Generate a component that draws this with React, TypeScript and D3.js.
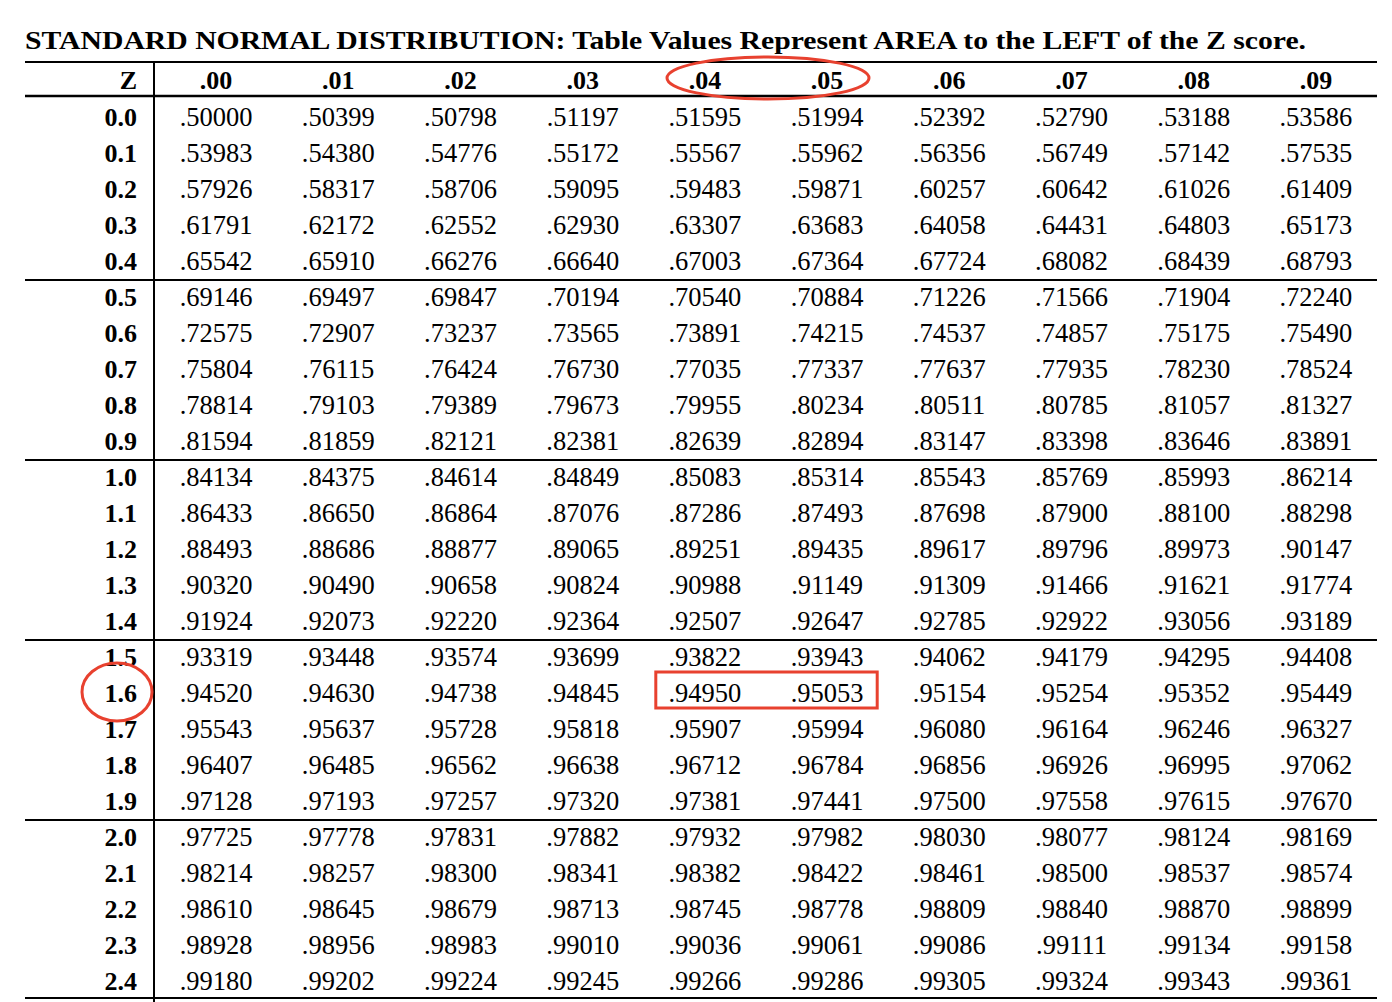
import * as d3 from "d3";

const title = "STANDARD NORMAL DISTRIBUTION: Table Values Represent AREA to the LEFT of the Z score.";
const columns = [".00", ".01", ".02", ".03", ".04", ".05", ".06", ".07", ".08", ".09"];
const zLabels = ["0.0","0.1","0.2","0.3","0.4","0.5","0.6","0.7","0.8","0.9","1.0","1.1","1.2","1.3","1.4","1.5","1.6","1.7","1.8","1.9","2.0","2.1","2.2","2.3","2.4"];
const values = [
  ".50000 .50399 .50798 .51197 .51595 .51994 .52392 .52790 .53188 .53586",
  ".53983 .54380 .54776 .55172 .55567 .55962 .56356 .56749 .57142 .57535",
  ".57926 .58317 .58706 .59095 .59483 .59871 .60257 .60642 .61026 .61409",
  ".61791 .62172 .62552 .62930 .63307 .63683 .64058 .64431 .64803 .65173",
  ".65542 .65910 .66276 .66640 .67003 .67364 .67724 .68082 .68439 .68793",
  ".69146 .69497 .69847 .70194 .70540 .70884 .71226 .71566 .71904 .72240",
  ".72575 .72907 .73237 .73565 .73891 .74215 .74537 .74857 .75175 .75490",
  ".75804 .76115 .76424 .76730 .77035 .77337 .77637 .77935 .78230 .78524",
  ".78814 .79103 .79389 .79673 .79955 .80234 .80511 .80785 .81057 .81327",
  ".81594 .81859 .82121 .82381 .82639 .82894 .83147 .83398 .83646 .83891",
  ".84134 .84375 .84614 .84849 .85083 .85314 .85543 .85769 .85993 .86214",
  ".86433 .86650 .86864 .87076 .87286 .87493 .87698 .87900 .88100 .88298",
  ".88493 .88686 .88877 .89065 .89251 .89435 .89617 .89796 .89973 .90147",
  ".90320 .90490 .90658 .90824 .90988 .91149 .91309 .91466 .91621 .91774",
  ".91924 .92073 .92220 .92364 .92507 .92647 .92785 .92922 .93056 .93189",
  ".93319 .93448 .93574 .93699 .93822 .93943 .94062 .94179 .94295 .94408",
  ".94520 .94630 .94738 .94845 .94950 .95053 .95154 .95254 .95352 .95449",
  ".95543 .95637 .95728 .95818 .95907 .95994 .96080 .96164 .96246 .96327",
  ".96407 .96485 .96562 .96638 .96712 .96784 .96856 .96926 .96995 .97062",
  ".97128 .97193 .97257 .97320 .97381 .97441 .97500 .97558 .97615 .97670",
  ".97725 .97778 .97831 .97882 .97932 .97982 .98030 .98077 .98124 .98169",
  ".98214 .98257 .98300 .98341 .98382 .98422 .98461 .98500 .98537 .98574",
  ".98610 .98645 .98679 .98713 .98745 .98778 .98809 .98840 .98870 .98899",
  ".98928 .98956 .98983 .99010 .99036 .99061 .99086 .99111 .99134 .99158",
  ".99180 .99202 .99224 .99245 .99266 .99286 .99305 .99324 .99343 .99361",
].map((r) => r.split(" "));
const highlightRow = "1.6";
const highlightCols = [".04", ".05"];

export default function App() {
  const width = 1392;
  const height = 1002;
  const x = d3.scaleBand().domain(columns).range([155, 1377]);
  const y = d3.scaleBand().domain(zLabels).range([99, 999]);
  const font = "'Liberation Serif', 'Times New Roman', serif";
  const red = "#e8412f";
  const hr = y(highlightRow)!;
  const c0 = x(highlightCols[0])!;
  const c1 = x(highlightCols[1])! + x.bandwidth();
  return (
    <svg width={width} height={height} style={{ position: "absolute", left: 0, top: 0 }} fontFamily={font}>
      <rect width={width} height={height} fill="#fff" />
      <text x={25} y={49} fontSize={26} fontWeight="bold" textLength={1281} lengthAdjust="spacingAndGlyphs">{title}</text>
      <line x1={25} x2={1377} y1={62} y2={62} stroke="#000" strokeWidth={2} />
      <line x1={25} x2={1377} y1={96} y2={96} stroke="#000" strokeWidth={2.5} />
      <line x1={154} x2={154} y1={62} y2={1002} stroke="#000" strokeWidth={2} />
      <text x={137} y={89} fontSize={26} fontWeight="bold" textAnchor="end">Z</text>
      {columns.map((c) => (
        <text key={c} x={x(c)! + x.bandwidth() / 2} y={89} fontSize={26} fontWeight="bold" textAnchor="middle">{c}</text>
      ))}
      {zLabels.map((z, i) => (
        <g key={z}>
          {i % 5 === 0 && i > 0 && (
            <line x1={25} x2={1377} y1={y(z)! + 1} y2={y(z)! + 1} stroke="#000" strokeWidth={2} />
          )}
          <text x={137} y={y(z)! + 27} fontSize={26} fontWeight="bold" textAnchor="end">{z}</text>
          {values[i].map((v, j) => (
            <text key={j} x={x(columns[j])! + x.bandwidth() / 2} y={y(z)! + 27} fontSize={26.5} textAnchor="middle">{v}</text>
          ))}
        </g>
      ))}
      <line x1={25} x2={1377} y1={998} y2={998} stroke="#000" strokeWidth={2} />
      <ellipse cx={(c0 + c1) / 2 + 2} cy={78} rx={101} ry={21} fill="none" stroke={red} strokeWidth={3} />
      <ellipse cx={117} cy={hr + 17} rx={35} ry={29} fill="none" stroke={red} strokeWidth={3} />
      <rect x={c0 + 12} y={hr - 3} width={c1 - c0 - 23} height={36} fill="none" stroke={red} strokeWidth={3} />
    </svg>
  );
}
